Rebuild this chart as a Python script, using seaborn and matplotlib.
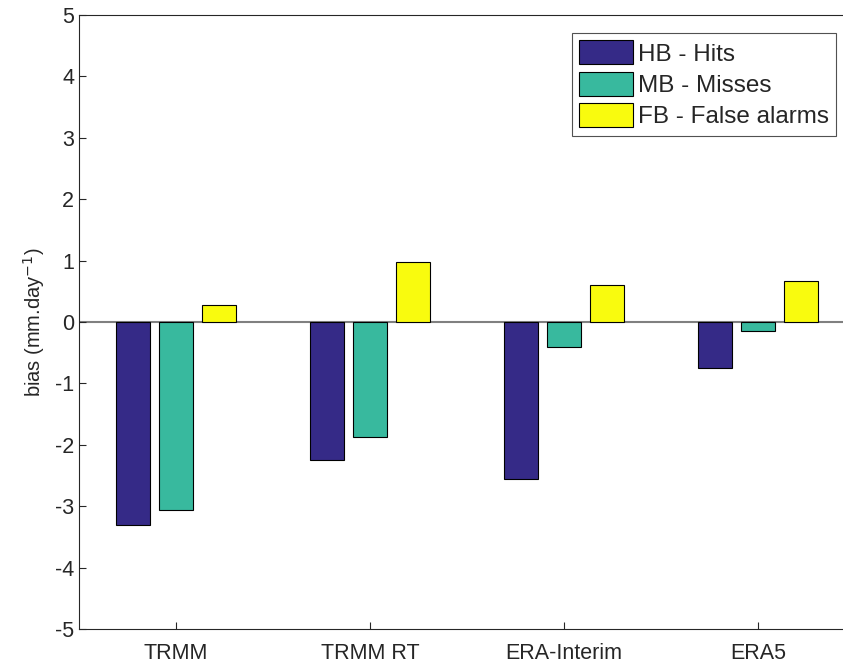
import matplotlib
matplotlib.use("Agg")
import matplotlib.pyplot as plt
import seaborn as sns
import pandas as pd

categories = ["TRMM", "TRMM RT", "ERA-Interim", "ERA5"]
series_names = ["HB - Hits", "MB - Misses", "FB - False alarms"]
hb_values = [-3.31, -2.25, -2.56, -0.75]
mb_values = [-3.06, -1.87, -0.40, -0.15]
fb_values = [0.28, 0.97, 0.61, 0.67]
colors = ["#352A87", "#38B99E", "#F9FB0E"]
yticks = [-5, -4, -3, -2, -1, 0, 1, 2, 3, 4, 5]

rows = []
for name, vals in zip(series_names, [hb_values, mb_values, fb_values]):
    for c, v in zip(categories, vals):
        rows.append({"cat": c, "series": name, "bias": v})
df = pd.DataFrame(rows)

sns.set_style("white")
plt.rcParams["font.family"] = ["Liberation Sans", "DejaVu Sans"]

fig = plt.figure(figsize=(8.43, 6.66), dpi=100)
ax = fig.add_axes([79/843, 37/666, 776/843, 614/666])

sns.barplot(data=df, x="cat", y="bias", hue="series", order=categories,
            hue_order=series_names, palette=colors, width=0.667, gap=0.2,
            edgecolor="black", linewidth=0.8, saturation=1, ax=ax, errorbar=None)

ax.axhline(0, color="#808080", lw=1.5, zorder=0.5)
ax.set_xlim(-0.5, 3.5)
ax.set_ylim(-5, 5)
ax.set_yticks(yticks)
ax.set_yticklabels([str(t) for t in yticks])
ax.set_xlabel("")
ax.set_ylabel("bias (mm.day$^{-1}$)", fontsize=14.5, color="#262626", labelpad=6)
ax.tick_params(axis="both", direction="in", length=5, width=0.8, colors="#262626",
               labelsize=15.5, left=True, bottom=True)
ax.tick_params(axis="x", pad=10)
for s in ax.spines.values():
    s.set_color("#262626")
    s.set_linewidth(0.8)
ax.spines["right"].set_visible(False)

leg = ax.legend(loc="upper right", fontsize=17.5, frameon=True, fancybox=False,
                edgecolor="#262626", handlelength=2.2, handleheight=1.15,
                labelspacing=0.25, handletextpad=0.2, borderpad=0.3,
                borderaxespad=0)
leg.get_frame().set_linewidth(0.8)
for t in leg.get_texts():
    t.set_color("#262626")
leg.set_bbox_to_anchor((836/843, 1 - 33/666), transform=fig.transFigure)

fig.savefig("out.png", dpi=100)
